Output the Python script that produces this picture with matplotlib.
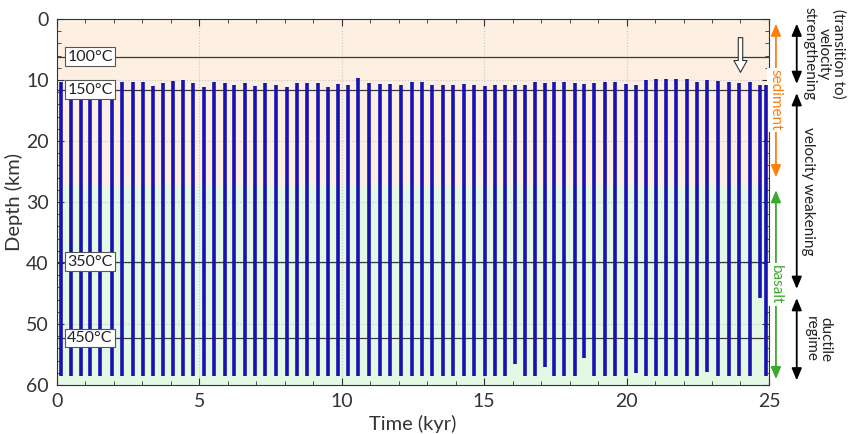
import numpy as np
import matplotlib
matplotlib.use('Agg')
import matplotlib.pyplot as plt

plt.rcParams['font.family'] = ['Lato', 'DejaVu Sans']

# Earthquake cycles: time of each event (kyr), top and bottom depth of slip (km)
event_time = [0.14, 0.49, 0.84, 1.17, 1.51, 1.92, 2.28, 2.66, 3.01, 3.36,
              3.72, 4.07, 4.42, 4.78, 5.16, 5.52, 5.89, 6.21, 6.60, 6.95,
              7.30, 7.69, 8.08, 8.43, 8.78, 9.16, 9.52, 9.87, 10.22, 10.57,
              10.96, 11.34, 11.69, 12.08, 12.45, 12.82, 13.17, 13.55, 13.90, 14.29,
              14.64, 15.03, 15.38, 15.73, 16.08, 16.43, 16.78, 17.13, 17.45, 17.80,
              18.19, 18.50, 18.86, 19.24, 19.59, 19.98, 20.33, 20.68, 21.03, 21.38,
              21.73, 22.12, 22.47, 22.82, 23.21, 23.60, 23.95, 24.33, 24.68, 24.91]
event_top = [10.4, 10.5, 10.0, 10.7, 10.8, 10.7, 10.4, 10.4, 10.4, 11.0,
             10.5, 10.2, 10.0, 10.5, 11.1, 10.4, 10.5, 10.8, 10.5, 11.0,
             10.5, 10.8, 11.1, 10.5, 10.5, 10.5, 11.1, 10.6, 10.8, 9.7,
             10.5, 10.6, 10.6, 10.8, 10.4, 10.4, 10.8, 10.8, 10.8, 10.7,
             10.8, 11.0, 10.8, 10.8, 10.8, 10.8, 10.4, 10.5, 10.4, 10.4,
             10.5, 10.6, 10.5, 10.4, 10.4, 10.6, 10.8, 10.0, 9.9, 9.9,
             9.9, 9.9, 10.3, 10.0, 10.1, 10.4, 10.5, 10.4, 10.8, 10.8]
event_bottom = [58.5] * 70
event_bottom[44] = 56.6
event_bottom[47] = 57.0
event_bottom[51] = 55.6
event_bottom[56] = 58.1
event_bottom[63] = 57.8
event_bottom[68] = 45.7

# Isotherms
iso_labels = ['100°C', '150°C', '350°C', '450°C']
iso_depth = [6.2, 11.6, 39.8, 52.3]

# Lithology and frictional regimes
sediment_base = 27.2
regime_bounds = [0, 11.4, 45.0, 60]
regime_labels = ['(transition to)\nvelocity\nstrengthening', 'velocity weakening', 'ductile\nregime']

fig, ax = plt.subplots(figsize=(8.48, 4.34), dpi=100)
fig.subplots_adjust(left=0.0672, right=0.9068, bottom=0.1129, top=0.9562)

# background layers
ax.axhspan(0, sediment_base, color='#fdefe2', zorder=0)
ax.axhspan(sediment_base, 60, color='#e4f8e4', zorder=0)
ax.grid(True, which='major', color='#c8c8c8', linestyle=':', linewidth=0.8, zorder=1)

# isotherms
for lab, d in zip(iso_labels, iso_depth):
    ax.axhline(d, color='#3a3a3a', lw=0.9, zorder=2)
    ax.text(0.36, d, lab, ha='left', va='center', fontsize=11.5, color='#222222', zorder=5,
            bbox=dict(boxstyle='square,pad=0.15', fc='white', ec='#555555', lw=0.8))

# slip events (drawn above the side labels' white boxes)
ax.vlines(event_time, event_top, event_bottom, color='#1612b4', lw=2.6, zorder=3.7)

# marker arrow
ax.annotate('', xy=(24.0, 9.2), xytext=(24.0, 2.6),
            arrowprops=dict(arrowstyle='simple,head_width=0.95,head_length=0.85,tail_width=0.32',
                            fc='white', ec='#333333', lw=0.8, mutation_scale=10), zorder=6)

ax.set_xlim(0, 25)
ax.set_ylim(60, 0)
ax.set_xticks(np.arange(0, 26, 5))
ax.set_xticks(np.arange(0, 26, 1), minor=True)
ax.set_yticks(np.arange(0, 61, 10))
ax.set_yticks(np.arange(0, 61, 2), minor=True)
ax.tick_params(which='both', direction='in', top=True, right=True, colors='#333333', labelsize=14)
ax.tick_params(which='major', length=5, pad=6)
ax.tick_params(which='minor', length=3)
for s in ax.spines.values():
    s.set_color('#333333')
ax.set_xlabel('Time (kyr)', fontsize=14.5, color='#333333', labelpad=3)
ax.set_ylabel('Depth (km)', fontsize=14.5, color='#333333', labelpad=2)

# right-hand annotations
tr = ax.get_yaxis_transform()
arrow = '<|-|>,head_length=0.6,head_width=0.25'
ax.annotate('', xy=(1.0098, 0.3), xytext=(1.0098, 26.4), xycoords=tr, textcoords=tr,
            arrowprops=dict(arrowstyle=arrow, color='#ff7f0e', lw=1.3, mutation_scale=12),
            annotation_clip=False, zorder=3.2)
ax.annotate('', xy=(1.0098, 27.6), xytext=(1.0098, 59.5), xycoords=tr, textcoords=tr,
            arrowprops=dict(arrowstyle=arrow, color='#3aaa2e', lw=1.3, mutation_scale=12),
            annotation_clip=False, zorder=3.2)
ax.text(1.0098, 13.3, 'sediment', transform=tr, rotation=-90, ha='center', va='center',
        fontsize=11, color='#ff7f0e', zorder=3.5,
        bbox=dict(boxstyle='square,pad=0.1', fc='white', ec='none'))
ax.text(1.0098, 43.5, 'basalt', transform=tr, rotation=-90, ha='center', va='center',
        fontsize=11, color='#3aaa2e', zorder=3.5,
        bbox=dict(boxstyle='square,pad=0.1', fc='white', ec='none'))

label_x = [1.0778, 1.055, 1.0695]
for i, lab in enumerate(regime_labels):
    top = regime_bounds[i] + 0.3
    bot = regime_bounds[i + 1] - 0.3
    ax.annotate('', xy=(1.039, top), xytext=(1.039, bot), xycoords=tr, textcoords=tr,
                arrowprops=dict(arrowstyle=arrow, color='black', lw=1.3, mutation_scale=12),
                annotation_clip=False)
    ax.text(label_x[i], (regime_bounds[i] + regime_bounds[i + 1]) / 2, lab, transform=tr,
            rotation=-90, ha='center', va='center', multialignment='center',
            fontsize=11, color='#222222', linespacing=1.05)

plt.savefig('out.png', dpi=100)
